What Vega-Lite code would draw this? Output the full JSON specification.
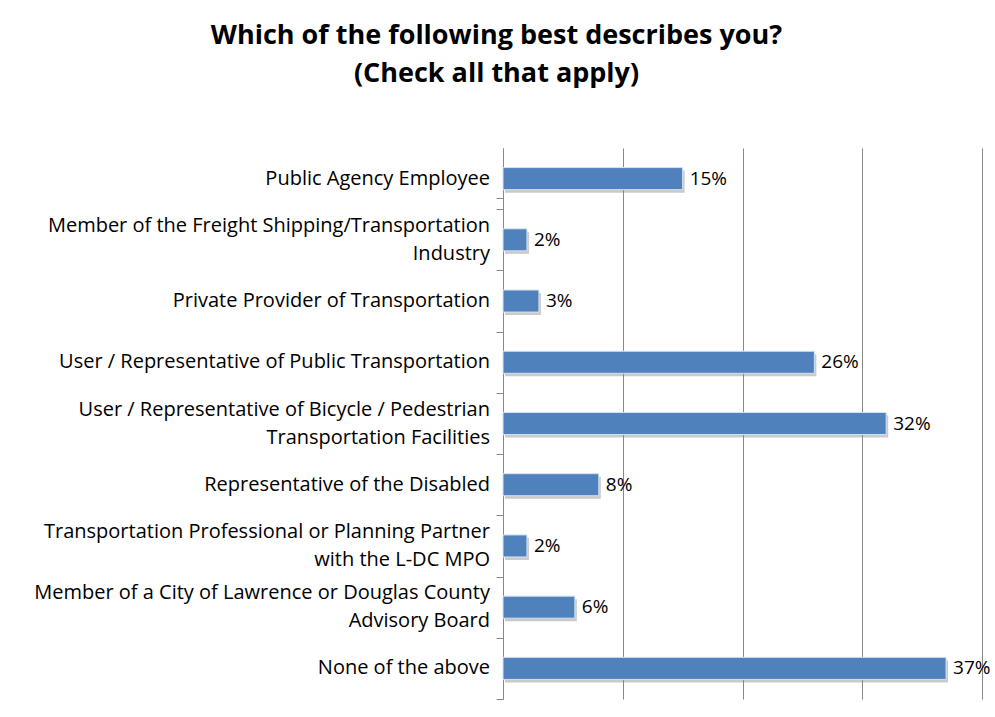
{
  "$schema": "https://vega.github.io/schema/vega-lite/v6.json",
  "width": 479,
  "height": 551,
  "autosize": {"type": "none"},
  "padding": {"left": 503, "top": 148, "right": 13, "bottom": 18},
  "background": "white",
  "title": {
    "text": ["Which of the following best describes you?", "(Check all that apply)"],
    "font": "Open Sans",
    "fontSize": 27,
    "fontWeight": "bold",
    "color": "black",
    "anchor": "middle",
    "dx": -246,
    "offset": 60,
    "lineHeight": 38
  },
  "data": {
    "values": [
      {"label": "Public Agency Employee", "pct": 0.15},
      {"label": "Member of the Freight Shipping/Transportation|Industry", "pct": 0.02},
      {"label": "Private Provider of Transportation", "pct": 0.03},
      {"label": "User / Representative of Public Transportation", "pct": 0.26},
      {"label": "User / Representative of Bicycle / Pedestrian|Transportation Facilities", "pct": 0.32},
      {"label": "Representative of the Disabled", "pct": 0.08},
      {"label": "Transportation Professional or Planning Partner|with the L-DC MPO", "pct": 0.02},
      {"label": "Member of a City of Lawrence or Douglas County|Advisory Board", "pct": 0.06},
      {"label": "None of the above", "pct": 0.37}
    ]
  },
  "encoding": {
    "y": {
      "field": "label",
      "type": "nominal",
      "sort": null,
      "title": null,
      "scale": {"paddingInner": 0.64, "paddingOuter": 0.32},
      "axis": {
        "labels": false,
        "ticks": true,
        "tickOffset": 30.6,
        "tickExtra": true,
        "tickSize": 7,
        "tickWidth": 1,
        "tickColor": "#888888",
        "domainColor": "#888888",
        "grid": false
      }
    },
    "x": {
      "field": "pct",
      "type": "quantitative",
      "scale": {"domain": [0, 0.4]},
      "title": null,
      "axis": {
        "values": [0, 0.1, 0.2, 0.3, 0.4],
        "labels": false,
        "ticks": false,
        "domain": false,
        "grid": true,
        "gridColor": "#888888",
        "gridWidth": 1
      }
    }
  },
  "layer": [
    {"mark": {"type": "bar", "color": "#8a8a8a", "opacity": 0.45, "xOffset": 2, "yOffset": 3}},
    {"mark": {"type": "bar", "color": "#4F81BD", "stroke": "#d6e2f0", "strokeWidth": 1}},
    {
      "mark": {"type": "text", "align": "left", "dx": 7, "font": "Open Sans", "fontSize": 19, "color": "black"},
      "encoding": {"text": {"field": "pct", "type": "quantitative", "format": ".0%"}}
    },
    {
      "mark": {
        "type": "text",
        "align": "right",
        "baseline": "middle",
        "dx": -13,
        "dy": {"expr": "indexof(datum.label, '|') >= 0 ? -14 : 0"},
        "lineBreak": "|",
        "lineHeight": 28,
        "font": "Open Sans",
        "fontSize": 20,
        "color": "black",
        "clip": false
      },
      "encoding": {
        "x": {"datum": 0},
        "text": {"field": "label", "type": "nominal"}
      }
    }
  ],
  "config": {"view": {"stroke": null}}
}
